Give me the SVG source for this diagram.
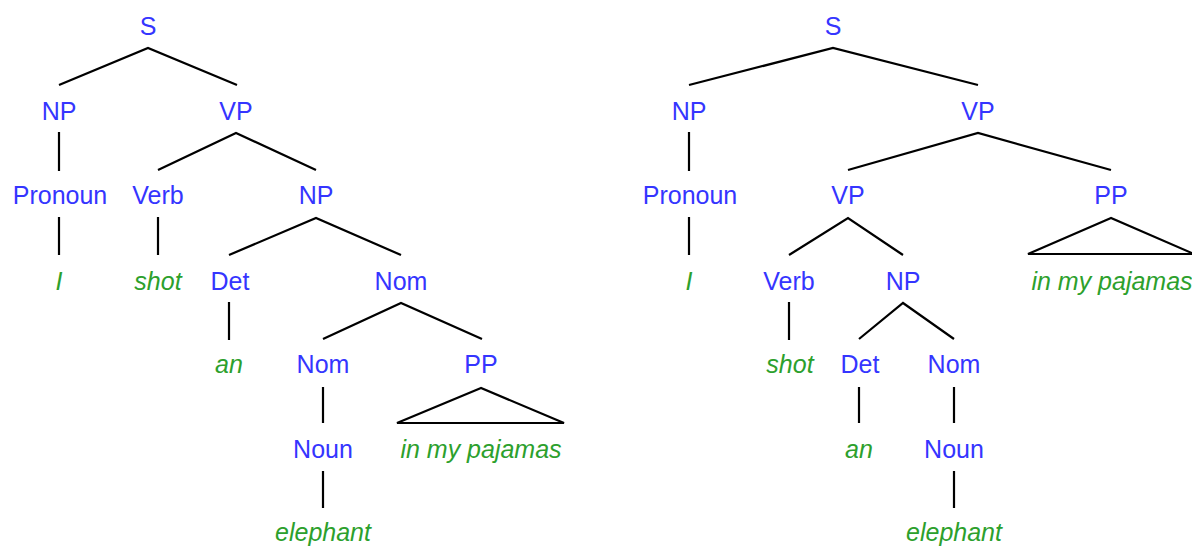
<svg xmlns="http://www.w3.org/2000/svg" width="1192" height="547" viewBox="0 0 1192 547">
<style>
text{font-family:"Liberation Sans",Arial,sans-serif;font-size:25px;text-anchor:middle}
.c{fill:#3535ff}
.w{fill:#2ca02c;font-style:italic}
.e{stroke:#000;stroke-width:2.2;fill:none}
</style>
<rect width="1192" height="547" fill="#fff"/>
<g id="connectors" class="e">
<polyline points="59,85 148,48 237,85"/>
<line x1="59" y1="132" x2="59" y2="171"/>
<polyline points="158,170 236,133 316,170"/>
<line x1="59" y1="217" x2="59" y2="255"/>
<line x1="158" y1="217" x2="158" y2="255"/>
<polyline points="229,255 316,218 401,255"/>
<line x1="229" y1="302" x2="229" y2="340"/>
<polyline points="323,339 401,303 482,339"/>
<line x1="323" y1="387" x2="323" y2="423"/>
<polygon points="481,388 397,423 564,423"/>
<line x1="323" y1="471" x2="323" y2="508"/>
<polyline points="689,85 833,48 978,85"/>
<line x1="689" y1="132" x2="689" y2="171"/>
<polyline points="848,170 978,133 1111,170"/>
<line x1="689" y1="217" x2="689" y2="255"/>
<polyline points="789,255 848,218 903,255"/>
<polygon points="1111,218 1028,254 1194,254"/>
<line x1="789" y1="302" x2="789" y2="340"/>
<polyline points="859,339 903,303 954,339"/>
<line x1="859" y1="387" x2="859" y2="423"/>
<line x1="954" y1="387" x2="954" y2="423"/>
<line x1="954" y1="471" x2="954" y2="508"/>
</g>
<g id="L-S"><text class="c" x="148" y="35">S</text></g>
<g id="L-NP"><text class="c" x="59" y="120">NP</text></g>
<g id="L-VP"><text class="c" x="236" y="120">VP</text></g>
<g id="L-Pronoun"><text class="c" x="60" y="204">Pronoun</text></g>
<g id="L-Verb"><text class="c" x="158" y="204">Verb</text></g>
<g id="L-NP2"><text class="c" x="316" y="204">NP</text></g>
<g id="L-I"><text class="w" x="59" y="290">I</text></g>
<g id="L-shot"><text class="w" x="158" y="290">shot</text></g>
<g id="L-Det"><text class="c" x="230" y="290">Det</text></g>
<g id="L-Nom"><text class="c" x="401" y="290">Nom</text></g>
<g id="L-an"><text class="w" x="229" y="373">an</text></g>
<g id="L-Nom2"><text class="c" x="323" y="373">Nom</text></g>
<g id="L-PP"><text class="c" x="481" y="373">PP</text></g>
<g id="L-Noun"><text class="c" x="323" y="458">Noun</text></g>
<g id="L-pajamas"><text class="w" x="481" y="458">in my pajamas</text></g>
<g id="L-elephant"><text class="w" x="323" y="541">elephant</text></g>
<g id="R-S"><text class="c" x="833" y="35">S</text></g>
<g id="R-NP"><text class="c" x="689" y="120">NP</text></g>
<g id="R-VP"><text class="c" x="978" y="120">VP</text></g>
<g id="R-Pronoun"><text class="c" x="690" y="204">Pronoun</text></g>
<g id="R-VP2"><text class="c" x="848" y="204">VP</text></g>
<g id="R-PP"><text class="c" x="1111" y="204">PP</text></g>
<g id="R-I"><text class="w" x="689" y="290">I</text></g>
<g id="R-Verb"><text class="c" x="789" y="290">Verb</text></g>
<g id="R-NP2"><text class="c" x="903" y="290">NP</text></g>
<g id="R-pajamas"><text class="w" x="1112" y="290">in my pajamas</text></g>
<g id="R-shot"><text class="w" x="790" y="373">shot</text></g>
<g id="R-Det"><text class="c" x="860" y="373">Det</text></g>
<g id="R-Nom"><text class="c" x="954" y="373">Nom</text></g>
<g id="R-an"><text class="w" x="859" y="458">an</text></g>
<g id="R-Noun"><text class="c" x="954" y="458">Noun</text></g>
<g id="R-elephant"><text class="w" x="954" y="541">elephant</text></g>
</svg>
